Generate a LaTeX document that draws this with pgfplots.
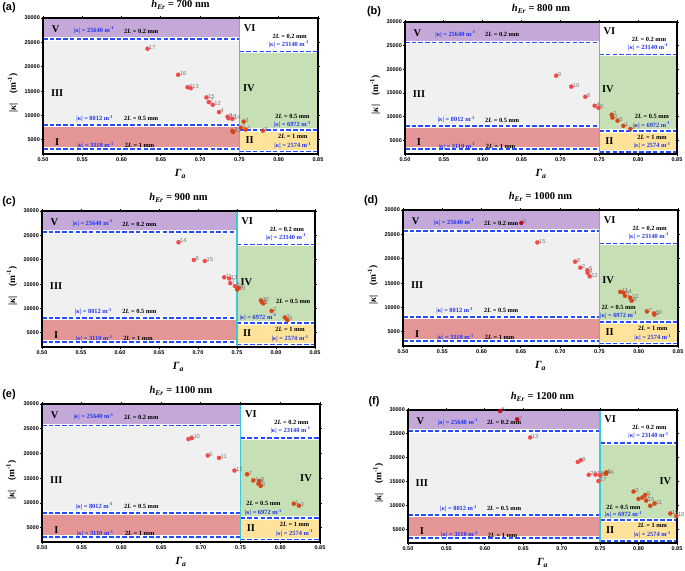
\documentclass[border=0pt]{standalone}
\usepackage{fontspec}
\setmainfont{Liberation Serif}
\setsansfont{Liberation Sans}
\usepackage{pgfplots}
\pgfplotsset{compat=1.18}

\definecolor{cV}{RGB}{196,168,216}
\definecolor{cIII}{RGB}{240,240,240}
\definecolor{cI}{RGB}{228,150,150}
\definecolor{cIV}{RGB}{198,223,180}
\definecolor{cII}{RGB}{255,227,155}
\definecolor{kblue}{RGB}{30,50,240}
\definecolor{dblue}{RGB}{35,75,255}
\definecolor{ccyan}{RGB}{60,200,212}
\definecolor{plight}{RGB}{240,75,75}
\definecolor{pdark}{RGB}{215,70,25}
\definecolor{pcrim}{RGB}{190,10,35}
\definecolor{ptgray}{RGB}{120,120,120}

\newcommand{\kap}{|\textit{κ}|}
\newcommand{\tl}{\textit{L}}

\tikzset{
 reg/.style={font=\fontsize{10.5}{11}\selectfont\bfseries, inner sep=0pt},
 ann/.style={font=\fontsize{6.4}{7}\selectfont\bfseries, inner sep=0pt},
 annb/.style={ann, text=kblue},
}

\newcommand{\bline}[3]{%
 \addplot[white, line width=3.6bp] coordinates {(#1,#3) (#2,#3)};
 \addplot[dblue, line width=1.6bp, dash pattern=on 4.5bp off 2.2bp] coordinates {(#1,#3) (#2,#3)};
}

\newcommand{\bgcommon}{%
 \addplot[draw=none, fill=cV] coordinates {(0.5,25640) (0.75,25640) (0.75,30000) (0.5,30000)} -- cycle;
 \addplot[draw=none, fill=cIII] coordinates {(0.5,8012) (0.75,8012) (0.75,25640) (0.5,25640)} -- cycle;
 \addplot[draw=none, fill=cI] coordinates {(0.5,3110) (0.75,3110) (0.75,8012) (0.5,8012)} -- cycle;
 \addplot[draw=none, fill=cIV] coordinates {(0.75,6972) (0.85,6972) (0.85,23140) (0.75,23140)} -- cycle;
 \addplot[draw=none, fill=cII] coordinates {(0.75,2574) (0.85,2574) (0.85,6972) (0.75,6972)} -- cycle;
 \bline{0.5}{0.75}{25640}
 \bline{0.5}{0.75}{8012}
 \bline{0.5}{0.75}{3110}
 \bline{0.75}{0.85}{23140}
 \bline{0.75}{0.85}{6972}
 \bline{0.75}{0.85}{2574}
 \addplot[ccyan, line width=1.3bp] coordinates {(0.75,2100) (0.75,30000)};
 \node[reg] at (axis cs:0.516,27700) {V};
 \node[annb] at (axis cs:0.565,27450) {\kap{} = 25640 m\textsuperscript{-1}};
 \node[ann] at (axis cs:0.625,27300) {2\tl{} = 0.2 mm};
 \node[reg] at (axis cs:0.518,14700) {III};
 \node[annb] at (axis cs:0.566,9300) {\kap{} = 8012 m\textsuperscript{-1}};
 \node[ann] at (axis cs:0.625,9300) {2\tl{} = 0.5 mm};
 \node[reg] at (axis cs:0.518,4600) {I};
 \node[annb] at (axis cs:0.567,3800) {\kap{} = 3110 m\textsuperscript{-1}};
 \node[ann] at (axis cs:0.623,3800) {2\tl{} = 1 mm};
 \node[reg] at (axis cs:0.763,28000) {VI};
 \node[ann] at (axis cs:0.814,26300) {2\tl{} = 0.2 mm};
 \node[annb] at (axis cs:0.813,24650) {\kap{} = 23140 m\textsuperscript{-1}};
 \node[reg] at (axis cs:0.763,4900) {II};
 \node[ann] at (axis cs:0.818,5700) {2\tl{} = 1 mm};
 \node[annb] at (axis cs:0.818,3850) {\kap{} = 2574 m\textsuperscript{-1}};
}
\newcommand{\pIV}[2]{\node[reg] at (axis cs:#1,#2) {IV};}
\newcommand{\phalf}[4]{\node[ann] at (axis cs:#1,#2) {2\tl{} = 0.5 mm};
 \node[annb] at (axis cs:#3,#4) {\kap{} = 6972 m\textsuperscript{-1}};}

\pgfplotsset{
 pts/.style={only marks, mark=*, mark size=2.1bp, color=#1,
  mark options={solid, draw=#1, fill=#1, line width=0.2bp},
  nodes near coords, point meta=explicit symbolic,
  every node near coord/.append style={anchor=west, font=\fontsize{5.8}{6}\selectfont\sffamily, text=ptgray, inner sep=0pt, xshift=1.6bp, yshift=1.2bp}},
 panel/.style={
  scale only axis, anchor=north west,
  xmin=0.5, xmax=0.85, ymin=2100, ymax=30000,
  clip=false, axis on top,
  axis line style={line width=1.6bp, black},
  xtick={0.5,0.55,0.6,0.65,0.7,0.75,0.8,0.85},
  ytick={5000,10000,15000,20000,25000,30000},
  tick align=outside, major tick length=2bp,
  every tick/.style={black, line width=0.8bp},
  scaled y ticks=false, scaled x ticks=false,
  /pgf/number format/assume math mode=true,
  tick label style={font=\fontsize{5.5}{6}\selectfont\sffamily\bfseries, inner sep=1bp},
  xticklabel style={/pgf/number format/fixed, /pgf/number format/fixed zerofill, /pgf/number format/precision=2},
  yticklabel style={/pgf/number format/fixed, /pgf/number format/1000 sep={}},
  title style={at={(axis description cs:0.5,1)}, anchor=center, yshift=7bp, font=\fontsize{10.5}{12}\selectfont\bfseries},
  xlabel={\textit{Γ}\textsubscript{\textit{a}}},
  ylabel={\kap\quad(m\textsuperscript{-1})},
  xlabel style={at={(axis description cs:0.5,0)}, anchor=center, yshift=-20bp, font=\fontsize{11}{12}\selectfont\bfseries},
  ylabel style={at={(axis description cs:-0.11,0.45)}, anchor=center, font=\fontsize{9.5}{10}\selectfont\bfseries},
 }
}
\tikzset{plab/.style={font=\fontsize{11}{12}\selectfont\sffamily\bfseries, anchor=center}}

\begin{document}
\begin{tikzpicture}
\path[use as bounding box] (0,0) rectangle (685bp,-571bp);

% (a)
\begin{axis}[panel, at={(43bp,-18bp)}, width=275bp, height=136bp,
  title={\textit{h}\textsubscript{\textit{Er}} = 700 nm}]
\bgcommon
\pIV{0.762}{15600}
\phalf{0.8175}{9900}{0.8175}{8150}
\addplot[pts=plight] table[meta=l, row sep=\\] {x y l\\
0.633 23700 17\\ 0.672 18350 16\\ 0.684 15800 9\\ 0.688 15600 13\\
0.708 13700 15\\ 0.711 12750 7\\ 0.716 12200 12\\ 0.724 10700 4\\
0.735 9750 5\\ 0.736 9450 10\\ 0.741 9300 14\\};
\addplot[pts=pdark] table[meta=l, row sep=\\] {x y l\\
0.741 6850 2\\ 0.742 6600 11\\ 0.752 7500 1\\ 0.7555 8750 3\\ 0.758 7100 6\\ 0.780 6900 8\\};
\end{axis}

% (b)
\begin{axis}[panel, at={(405bp,-22bp)}, width=272bp, height=132bp,
  title={\textit{h}\textsubscript{\textit{Er}} = 800 nm}]
\bgcommon
\pIV{0.761}{15800}
\phalf{0.8178}{10000}{0.8178}{8150}
\addplot[pts=plight] table[meta=l, row sep=\\] {x y l\\
0.6945 18650 9\\ 0.714 16350 10\\ 0.732 14200 8\\ 0.744 12300 4\\ 0.749 11850 6\\};
\addplot[pts=pdark] table[meta=l, row sep=\\] {x y l\\
0.766 10400 7\\ 0.767 9800 3\\ 0.7735 9150 5\\ 0.781 8050 1\\ 0.790 7400 2\\};
\end{axis}

% (c)
\begin{axis}[panel, at={(42bp,-211bp)}, width=273bp, height=136bp,
  title={\textit{h}\textsubscript{\textit{Er}} = 900 nm}]
\bgcommon
\pIV{0.762}{15450}
\phalf{0.822}{11500}{0.777}{8250}
\addplot[pts=plight] table[meta=l, row sep=\\] {x y l\\
0.675 23600 14\\ 0.6947 19950 8\\ 0.7088 19750 15\\ 0.7336 16400 11\\
0.740 16150 13\\ 0.7413 15200 7\\ 0.7473 14600 5\\};
\addplot[pts=pdark] table[meta=l, row sep=\\] {x y l\\
0.7503 13900 10\\ 0.752 14200 6\\ 0.7807 11650 12\\ 0.7820 11300 4\\ 0.7837 11050 1\\
0.7944 9500 2\\ 0.8115 8150 3\\ 0.8145 7600 9\\};
\end{axis}

% (d)
\begin{axis}[panel, at={(403bp,-210bp)}, width=275bp, height=136bp,
  title={\textit{h}\textsubscript{\textit{Er}} = 1000 nm}]
\bgcommon
\pIV{0.761}{15600}
\phalf{0.7745}{9950}{0.7745}{8400}
\addplot[pts=pcrim] table[meta=l, row sep=\\] {x y l\\
0.6506 27350 6\\};
\addplot[pts=plight] table[meta=l, row sep=\\] {x y l\\
0.671 23350 15\\ 0.719 19400 8\\ 0.7257 18180 2\\ 0.7346 17650 5\\ 0.735 17100 4\\ 0.7376 16400 12\\};
\addplot[pts=pdark] table[meta=l, row sep=\\] {x y l\\
0.7766 13200 11\\ 0.7808 13050 14\\ 0.7825 12400 1\\ 0.789 12000 13\\ 0.791 11400 9\\
0.8105 9200 7\\ 0.8195 8800 10\\ 0.8200 8550 3\\};
\end{axis}

% (e)
\begin{axis}[panel, at={(42bp,-404bp)}, width=278bp, height=138bp,
  title={\textit{h}\textsubscript{\textit{Er}} = 1100 nm}]
\bgcommon
\pIV{0.8324}{15100}
\phalf{0.7787}{9900}{0.7787}{8050}
\addplot[pts=plight] table[meta=l, row sep=\\] {x y l\\
0.6844 22900 9\\ 0.6886 23100 10\\ 0.7087 19600 6\\ 0.7229 19100 11\\ 0.7423 16550 12\\};
\addplot[pts=pdark] table[meta=l, row sep=\\] {x y l\\
0.7582 15800 7\\ 0.766 14550 4\\ 0.7737 14450 8\\ 0.7725 13900 5\\ 0.7754 13450 2\\
0.817 9850 1\\ 0.8234 9450 3\\};
\end{axis}

% (f)
\begin{axis}[panel, at={(408bp,-410bp)}, width=269bp, height=133bp,
  title={\textit{h}\textsubscript{\textit{Er}} = 1200 nm}]
\bgcommon
\pIV{0.8348}{15000}
\phalf{0.7804}{9600}{0.7804}{8000}
\addplot[pts=pcrim] table[meta=l, row sep=\\] {x y l\\
0.620 29800 5\\ 0.642 28050 7\\};
\addplot[pts=plight] table[meta=l, row sep=\\] {x y l\\
0.659 24250 13\\ 0.7209 19100 2\\ 0.7248 19450 8\\ 0.7352 16400 20\\ 0.7439 16450 16\\
0.750 16300 10\\ 0.7478 15100 17\\};
\addplot[pts=pdark] table[meta=l, row sep=\\] {x y l\\
0.7574 16650 14\\ 0.758 16900 6\\ 0.7935 12900 3\\ 0.800 11350 4\\ 0.805 11650 12\\
0.8087 12200 9\\ 0.810 11000 15\\ 0.8152 9900 1\\ 0.8209 10400 11\\ 0.8413 8300 19\\ 0.8491 7750 18\\};
\end{axis}

\node[plab] at (9bp,-8bp) {(a)};
\node[plab] at (374bp,-12bp) {(b)};
\node[plab] at (9bp,-202bp) {(c)};
\node[plab] at (371bp,-201bp) {(d)};
\node[plab] at (9bp,-395bp) {(e)};
\node[plab] at (374bp,-402bp) {(f)};
\end{tikzpicture}
\end{document}
